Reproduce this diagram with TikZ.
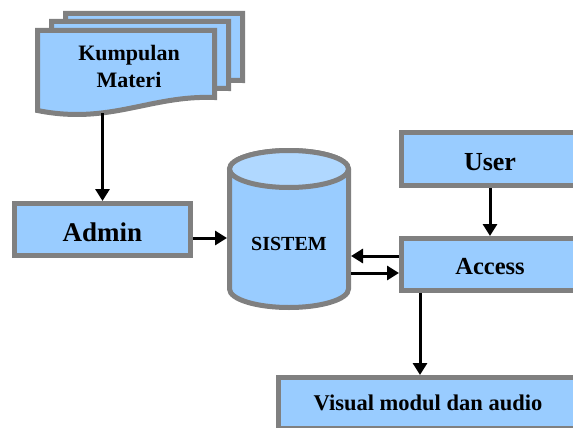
\documentclass[tikz,border=0pt]{standalone}
\usepackage{fontspec}
\setmainfont{Liberation Serif}
\usetikzlibrary{arrows.meta,positioning,calc}
\definecolor{boxblue}{HTML}{99CCFF}
\definecolor{toplight}{HTML}{B0D8FF}
\definecolor{rimgray}{HTML}{808080}
\tikzset{
  box/.style={draw=rimgray, fill=boxblue, line width=5pt, inner sep=0pt, font=\bfseries},
  arr/.style={-{Triangle[length=12pt,width=14pt]}, line width=3pt},
}
\newcommand{\docsheet}[2]{%
  \filldraw[fill=boxblue, draw=rimgray, line width=5pt, shift={(#1,#2)}]
    (37.5,30.5) -- (214.5,30.5) -- (214.5,97.5)
    .. controls (150,95) and (110,125) .. (37.5,110.5) -- cycle;}

\begin{document}
\begin{tikzpicture}[x=1pt, y=-1pt]
  \useasboundingbox (0,0) rectangle (573,428);
  \clip (0,0) rectangle (573,428);

  % stacked documents
  \docsheet{28}{-17}
  \docsheet{14}{-9}
  \docsheet{0}{0}
  \node[align=center, font=\bfseries\fontsize{22}{27}\selectfont] (materi) at (129,66.5) {Kumpulan\\Materi};
  \coordinate (docbot) at (102.5,113);

  % database
  \filldraw[fill=boxblue, draw=rimgray, line width=5pt]
    (229.5,169) -- (229.5,289) arc[start angle=180, end angle=0, x radius=59.5, y radius=18.5]
    -- (348.5,169) arc[start angle=0, end angle=-180, x radius=59.5, y radius=18.5] -- cycle;
  \filldraw[fill=toplight, draw=rimgray, line width=5pt] (289,169) ellipse [x radius=59.5, y radius=18.5];
  \node[inner sep=0pt, outer sep=0pt, minimum width=124pt, minimum height=100pt,
        font=\bfseries\fontsize{20}{24}\selectfont] (sistem) at (289,244) {SISTEM};

  % boxes
  \node[box, minimum width=176pt, minimum height=52pt, text height=24pt, text depth=0pt,
        font=\bfseries\fontsize{27}{30}\selectfont] (admin) at (102.5,229.5) {Admin};
  \node[box, minimum width=177pt, minimum height=53pt, text height=23pt, text depth=0pt,
        font=\bfseries\fontsize{26}{30}\selectfont] (user) at (490,159) {User};
  \node[box, minimum width=177pt, minimum height=52pt, text height=19.5pt, text depth=0pt,
        font=\bfseries\fontsize{24.5}{28}\selectfont] (access) at (490,264.5) {Access};
  \node[box, minimum width=299pt, minimum height=51pt,
        font=\bfseries\fontsize{22.5}{26}\selectfont] (visual) at (428,403) {Visual modul dan audio};

  % arrows
  \draw[arr] (docbot) -- (admin.north);
  \draw[arr] ([yshift=-8.5pt]admin.east) -- ([yshift=-8.5pt]admin.east -| sistem.west);
  \draw[arr] ([yshift=8.5pt]access.west) -- ([yshift=8.5pt]access.west -| sistem.east);
  \draw[arr] ([yshift=-8.5pt]access.west -| sistem.east) -- ([yshift=-8.5pt]access.west);
  \draw[arr] (user) -- (access);
  \draw[arr] ([xshift=21pt]access.south west) -- ([xshift=21pt]access.south west |- visual.north);
\end{tikzpicture}
\end{document}
